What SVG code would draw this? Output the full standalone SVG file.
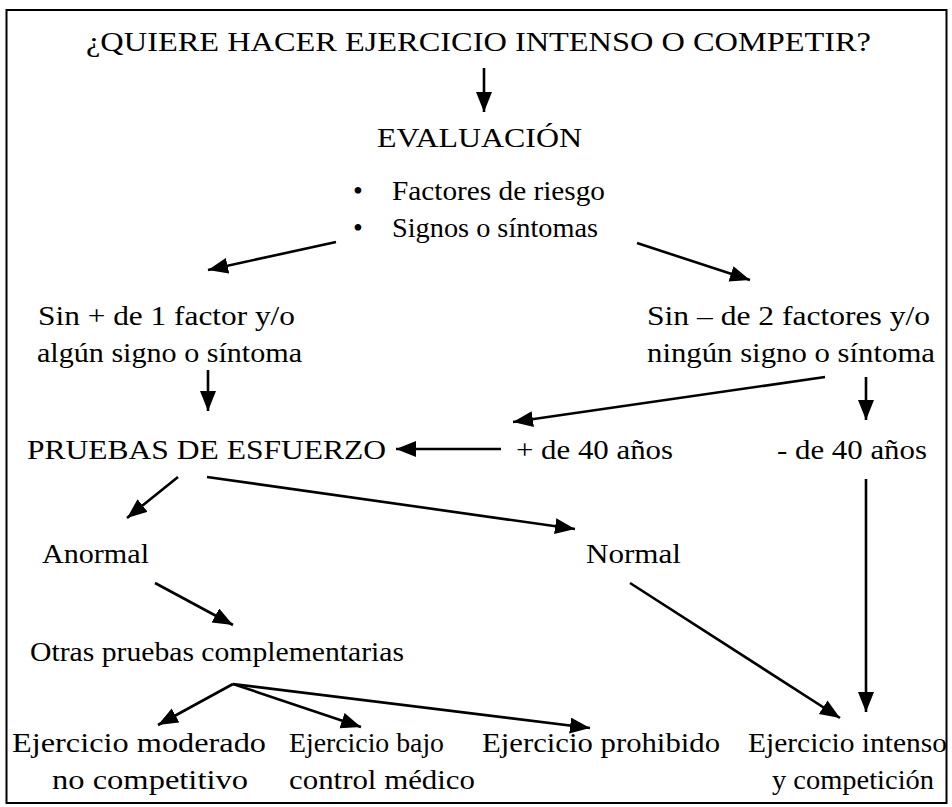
<svg xmlns="http://www.w3.org/2000/svg" width="952" height="807" viewBox="0 0 952 807">
<style>
text{font-family:"Liberation Serif","Times New Roman",serif;font-size:28px;fill:#000;}
.c line{stroke:#000;stroke-width:2.6;fill:none;}
</style>
<defs>
<marker id="ah" markerUnits="userSpaceOnUse" markerWidth="22" markerHeight="18" refX="20" refY="8" orient="auto" viewBox="0 0 22 18">
<path d="M0,0 L20,8 L0,16 z" fill="#000"/>
</marker>
</defs>
<rect x="6.5" y="10" width="940" height="793" fill="#fff" stroke="#000" stroke-width="2"/>
<g font-family="Liberation Serif, Times New Roman, serif">
<g id="n-title"><text x="86" y="51" textLength="785" lengthAdjust="spacingAndGlyphs">¿QUIERE HACER EJERCICIO INTENSO O COMPETIR?</text></g>
<g id="n-eval">
<text x="377" y="147" textLength="205" lengthAdjust="spacingAndGlyphs">EVALUACIÓN</text>
<text x="353" y="200">•</text>
<text x="392" y="200" textLength="213" lengthAdjust="spacingAndGlyphs">Factores de riesgo</text>
<text x="353" y="237">•</text>
<text x="392" y="237" textLength="206" lengthAdjust="spacingAndGlyphs">Signos o síntomas</text>
</g>
<g id="n-sinmas">
<text x="38" y="325" textLength="257" lengthAdjust="spacingAndGlyphs">Sin + de 1 factor y/o</text>
<text x="37" y="362" textLength="265" lengthAdjust="spacingAndGlyphs">algún signo o síntoma</text>
</g>
<g id="n-sinmenos">
<text x="647" y="325" textLength="283" lengthAdjust="spacingAndGlyphs">Sin – de 2 factores y/o</text>
<text x="647" y="362" textLength="288" lengthAdjust="spacingAndGlyphs">ningún signo o síntoma</text>
</g>
<g id="n-pruebas"><text x="27" y="459" textLength="359" lengthAdjust="spacingAndGlyphs">PRUEBAS DE ESFUERZO</text></g>
<g id="n-mas40"><text x="516" y="459" textLength="157" lengthAdjust="spacingAndGlyphs">+ de 40 años</text></g>
<g id="n-menos40"><text x="777" y="459" textLength="150" lengthAdjust="spacingAndGlyphs">- de 40 años</text></g>
<g id="n-anormal"><text x="42" y="563" textLength="107" lengthAdjust="spacingAndGlyphs">Anormal</text></g>
<g id="n-normal"><text x="586" y="563" textLength="95" lengthAdjust="spacingAndGlyphs">Normal</text></g>
<g id="n-otras"><text x="30" y="661" textLength="374" lengthAdjust="spacingAndGlyphs">Otras pruebas complementarias</text></g>
<g id="n-moderado">
<text x="12" y="752" textLength="254" lengthAdjust="spacingAndGlyphs">Ejercicio moderado</text>
<text x="52" y="789" textLength="196" lengthAdjust="spacingAndGlyphs">no competitivo</text>
</g>
<g id="n-bajo">
<text x="289" y="752" textLength="155" lengthAdjust="spacingAndGlyphs">Ejercicio bajo</text>
<text x="289" y="789" textLength="186" lengthAdjust="spacingAndGlyphs">control médico</text>
</g>
<g id="n-prohibido"><text x="482" y="752" textLength="238" lengthAdjust="spacingAndGlyphs">Ejercicio prohibido</text></g>
<g id="n-intenso">
<text x="748" y="752" textLength="199" lengthAdjust="spacingAndGlyphs">Ejercicio intenso</text>
<text x="772" y="789" textLength="162" lengthAdjust="spacingAndGlyphs">y competición</text>
</g>
</g>
<g id="connectors" class="c">
<line x1="484" y1="68" x2="484" y2="112" marker-end="url(#ah)"/>
<line x1="336" y1="242" x2="208" y2="270" marker-end="url(#ah)"/>
<line x1="637" y1="243" x2="750" y2="280" marker-end="url(#ah)"/>
<line x1="208" y1="370" x2="208" y2="411" marker-end="url(#ah)"/>
<line x1="825" y1="377" x2="513" y2="422" marker-end="url(#ah)"/>
<line x1="866" y1="377" x2="866" y2="420" marker-end="url(#ah)"/>
<line x1="501" y1="449" x2="396" y2="449" marker-end="url(#ah)"/>
<line x1="178" y1="477" x2="127" y2="518" marker-end="url(#ah)"/>
<line x1="207" y1="477" x2="575" y2="529" marker-end="url(#ah)"/>
<line x1="866" y1="479" x2="866" y2="712" marker-end="url(#ah)"/>
<line x1="155" y1="583" x2="233" y2="625" marker-end="url(#ah)"/>
<line x1="630" y1="583" x2="840" y2="718" marker-end="url(#ah)"/>
<line x1="233" y1="684" x2="158" y2="725" marker-end="url(#ah)"/>
<line x1="233" y1="684" x2="361" y2="727" marker-end="url(#ah)"/>
<line x1="233" y1="684" x2="590" y2="728" marker-end="url(#ah)"/>
</g>
</svg>
